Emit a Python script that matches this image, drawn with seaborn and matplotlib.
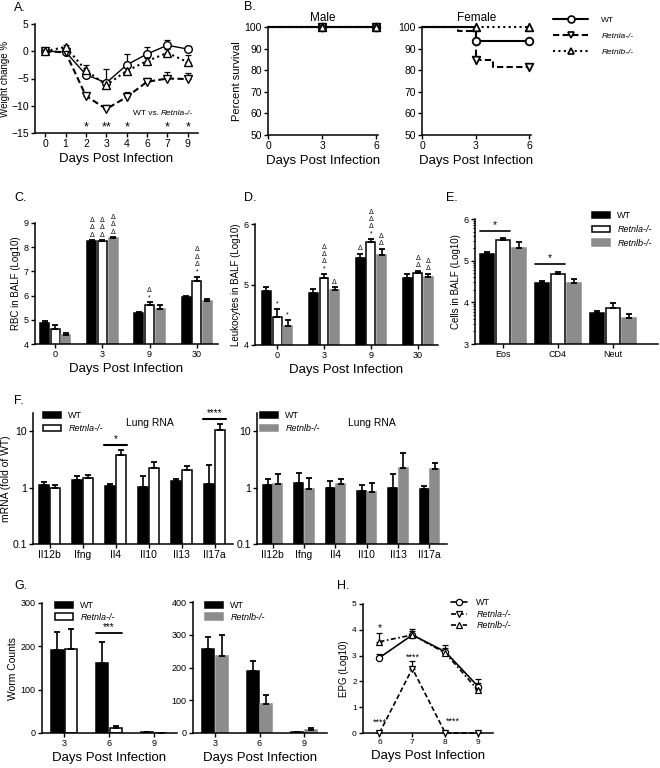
import numpy as np
import pandas as pd
import matplotlib
matplotlib.use("Agg")
import matplotlib.pyplot as plt
import seaborn as sns
from matplotlib.patches import Patch
from matplotlib.lines import Line2D
from matplotlib.ticker import FixedLocator, NullLocator, FixedFormatter

# ---------------- data ----------------
GENO = ["WT", "Retnla-/-", "Retnlb-/-"]
COLORS = {"WT": "black", "Retnla-/-": "white", "Retnlb-/-": "#8c8c8c"}

# A. weight change
days_a = ["0", "1", "2", "3", "4", "6", "7", "9"]
wt_a = [0, -0.1, -4.3, -5.8, -2.5, -0.5, 1.1, 0.4]
wt_a_err = [0.2, 0.3, 0.5, 2.6, 2.0, 1.2, 0.9, 0.5]
rla_a = [0, -0.2, -8.2, -10.6, -8.4, -5.6, -5.0, -5.1]
rla_a_err = [0.2, 0.3, 0.5, 0.8, 1.0, 0.7, 1.2, 1.2]
rlb_a = [0, 0.8, -3.5, -6.2, -3.6, -1.8, -0.3, -2.0]
rlb_a_err = [0.2, 0.3, 0.9, 0.7, 0.8, 0.6, 0.8, 1.3]
stars_a = ["", "", "*", "**", "*", "", "*", "*"]

# B. survival (Kaplan-Meier steps + censor marks)
male_t = [0, 6]
male_s = [100, 100]
male_cens_t = [3, 6]
male_cens_s = [100, 100]
fem_wt_t = [0, 3, 6]
fem_wt_s = [100, 93.3, 93.3]
fem_rla_t = [0, 2, 3, 4, 6]
fem_rla_s = [100, 98.3, 84.7, 81.3, 81.3]
fem_rlb_t = [0, 6]
fem_rlb_s = [100, 100]
fem_cens_t = [3, 6]
fem_wt_cens = [93.3, 93.3]
fem_rla_cens = [84.7, 81.3]
fem_rlb_cens = [100, 100]

# C. RBC in BALF
days_c = ["0", "3", "9", "30"]
wt_c = [4.88, 8.24, 5.27, 5.95]
wt_c_err = [0.07, 0.05, 0.05, 0.05]
rla_c = [4.63, 8.25, 5.63, 6.62]
rla_c_err = [0.15, 0.04, 0.09, 0.15]
rlb_c = [4.37, 8.36, 5.45, 5.79]
rlb_c_err = [0.09, 0.06, 0.15, 0.08]
ann_c = {"WT": ["", "ΔΔΔ", "", ""],
         "Retnla-/-": ["", "ΔΔΔ", "*Δ", "*ΔΔΔ"],
         "Retnlb-/-": ["", "ΔΔΔ", "", ""]}

# D. leukocytes in BALF
days_d = ["0", "3", "9", "30"]
wt_d = [4.90, 4.86, 5.44, 5.10]
wt_d_err = [0.06, 0.06, 0.07, 0.08]
rla_d = [4.47, 5.11, 5.70, 5.19]
rla_d_err = [0.13, 0.06, 0.05, 0.04]
rlb_d = [4.32, 4.91, 5.49, 5.12]
rlb_d_err = [0.10, 0.05, 0.10, 0.06]
ann_d = {"WT": ["", "", "Δ", ""],
         "Retnla-/-": ["*", "*ΔΔΔ", "*ΔΔΔ", "ΔΔ"],
         "Retnlb-/-": ["*", "Δ", "ΔΔ", "ΔΔ"]}

# E. cells in BALF
cells_e = ["Eos", "CD4", "Neut"]
wt_e = [5.15, 4.46, 3.75]
wt_e_err = [0.07, 0.06, 0.04]
rla_e = [5.50, 4.68, 3.86]
rla_e_err = [0.05, 0.05, 0.12]
rlb_e = [5.31, 4.46, 3.63]
rlb_e_err = [0.13, 0.10, 0.08]
sig_e = {"Eos": 5.71, "CD4": 4.92}

# F. lung RNA
genes_f = ["Il12b", "Ifng", "Il4", "Il10", "Il13", "Il17a"]
wt_f1 = [1.10, 1.35, 1.08, 1.03, 1.29, 1.18]
wt_f1_err = [0.16, 0.23, 0.07, 0.57, 0.15, 1.30]
rla_f = [0.99, 1.50, 3.72, 2.19, 2.08, 10.6]
rla_f_err = [0.11, 0.17, 0.84, 0.65, 0.30, 2.9]
sig_f = {"Il4": (5.8, "*"), "Il17a": (16.7, "****")}
wt_f2 = [1.10, 1.20, 1.00, 0.86, 1.00, 0.96]
wt_f2_err = [0.30, 0.60, 0.29, 0.24, 0.77, 0.10]
rlb_f = [1.18, 0.96, 1.18, 0.82, 2.25, 2.16]
rlb_f_err = [0.54, 0.52, 0.24, 0.38, 1.85, 0.60]

# G. worm counts
days_g = ["3", "6", "9"]
wt_g1 = [191, 161, 2]
wt_g1_err = [41, 48, 1]
rla_g = [193, 11, 0]
rla_g_err = [48, 6, 0]
wt_g2 = [256, 189, 3]
wt_g2_err = [36, 32, 1]
rlb_g = [235, 88, 9]
rlb_g_err = [64, 28, 6]

# H. eggs per gram
days_h = [6, 7, 8, 9]
wt_h = [2.92, 3.80, 3.15, 1.80]
wt_h_err = [0.14, 0.23, 0.25, 0.29]
rla_h = [0, 2.50, 0, 0]
rla_h_err = [0, 0.30, 0, 0]
rlb_h = [3.54, 3.80, 3.10, 1.65]
rlb_h_err = [0.32, 0.15, 0.20, 0.30]

# ---------------- style ----------------
sns.set_style("ticks")
plt.rcParams["font.family"] = ["Liberation Sans", "DejaVu Sans"]
plt.rcParams["axes.linewidth"] = 1.1
plt.rcParams["axes.edgecolor"] = "black"
plt.rcParams["xtick.color"] = "black"
plt.rcParams["ytick.color"] = "black"
plt.rcParams["text.color"] = "black"
plt.rcParams["axes.labelcolor"] = "black"

W, H = 660, 768
fig = plt.figure(figsize=(6.6, 7.68), dpi=100)

LS = {"WT": "-", "Retnla-/-": (0, (3, 1.6)), "Retnlb-/-": (0, (1, 1.6))}
MK = {"WT": "o", "Retnla-/-": "v", "Retnlb-/-": "^"}


def px_axes(l, t, r, b):
    ax = fig.add_axes([l / W, 1 - b / H, (r - l) / W, (b - t) / H])
    sns.despine(ax=ax)
    return ax


def style_ticks(ax, size):
    ax.tick_params(length=3, width=1.0, pad=1.5, labelsize=size)


def italic_legend(leg):
    for t in leg.get_texts():
        if t.get_text() != "WT":
            t.set_fontstyle("italic")


def bar_legend(ax, groups, x_px, y_px, size=6.5, spacing=0.35):
    handles = [Patch(facecolor=COLORS[g],
                     edgecolor=COLORS[g] if g == "Retnlb-/-" else "black",
                     linewidth=1.1) for g in groups]
    leg = ax.legend(handles, groups, loc="upper left",
                    bbox_to_anchor=(x_px / W, 1 - y_px / H),
                    bbox_transform=fig.transFigure, frameon=False,
                    fontsize=size, handlelength=2.0, handleheight=0.75,
                    handletextpad=0.8, labelspacing=spacing,
                    borderaxespad=0, borderpad=0)
    italic_legend(leg)


def draw_bars(ax, cats, groups, values, errors, width, gap):
    rows = []
    for g, vals in zip(groups, values):
        for c, v in zip(cats, vals):
            rows.append((c, g, v))
    df = pd.DataFrame(rows, columns=["cat", "grp", "val"])
    sns.barplot(data=df, x="cat", y="val", hue="grp", order=cats,
                hue_order=groups, palette=COLORS, width=width, gap=gap,
                edgecolor="black", linewidth=1.1, errorbar=None,
                legend=False, ax=ax, zorder=2)
    pos = {}
    n = len(cats)
    for i, g in enumerate(groups):
        xs = []
        for j, c in enumerate(cats):
            p = ax.patches[i * n + j]
            if g == "Retnlb-/-":
                p.set_edgecolor(COLORS[g])
            x = p.get_x() + p.get_width() / 2
            xs.append(x)
            pos[(g, c)] = (x, values[i][j] + errors[i][j], p.get_width())
        ax.errorbar(xs, values[i], yerr=[np.zeros(n), errors[i]], fmt="none",
                    ecolor="black", elinewidth=1.2, capsize=2, capthick=1.3,
                    zorder=3)
    return pos


def stack(ax, x, y, syms, size=5.0, step=5.3):
    for k, s in enumerate(syms):
        ax.annotate(s, (x, y), xytext=(0, 1.0 + step * k),
                    textcoords="offset points", ha="center", va="bottom",
                    fontsize=size, annotation_clip=False)


def panel_label(txt, x, y):
    fig.text(x / W, 1 - y / H, txt, ha="left", va="top", fontsize=9)


XLAB = "Days Post Infection"

# ---------------- A ----------------
ax = px_axes(35, 24, 198, 133)
xa = np.arange(len(days_a))
for g, vals, errs in (("WT", wt_a, wt_a_err), ("Retnla-/-", rla_a, rla_a_err),
                      ("Retnlb-/-", rlb_a, rlb_a_err)):
    sns.lineplot(x=xa, y=vals, ax=ax, color="black", linestyle=LS[g],
                 linewidth=1.0 if g == "WT" else 1.5, marker=MK[g],
                 markersize=5.5, markerfacecolor="white",
                 markeredgecolor="black", markeredgewidth=1.0, zorder=3)
    ax.errorbar(xa, vals, yerr=[np.zeros(len(xa)), errs], fmt="none",
                ecolor="black", elinewidth=0.9, capsize=2.5, capthick=0.9,
                zorder=2)
for x, s in zip(xa, stars_a):
    if s:
        ax.text(x, -14.0, s, ha="center", va="center", fontsize=9)
t1 = ax.text(4.3, -11.5, "WT vs. ", ha="left", va="center", fontsize=6)
ax.annotate("Retnla-/-", xy=(1, 0), xycoords=t1, va="bottom", ha="left",
            fontsize=6, style="italic")
ax.set_xlim(-0.5, 7.5)
ax.set_ylim(-15, 5)
ax.set_xticks(xa)
ax.set_xticklabels(days_a)
ax.set_yticks([-15, -10, -5, 0, 5])
style_ticks(ax, 7.5)
ax.set_xlabel(XLAB, fontsize=9.5, labelpad=3)
ax.set_ylabel("Weight change %", fontsize=7)
ax.yaxis.set_label_coords(-0.155, 0.5)
panel_label("A.", 14, 2)

# ---------------- B ----------------
ax_m = px_axes(268, 27, 378, 135)
ax_f = px_axes(422, 27, 531, 135)
male_sets = [(g, male_t, male_s, male_cens_t, male_cens_s) for g in GENO]
fem_sets = [("WT", fem_wt_t, fem_wt_s, fem_cens_t, fem_wt_cens),
            ("Retnla-/-", fem_rla_t, fem_rla_s, fem_cens_t, fem_rla_cens),
            ("Retnlb-/-", fem_rlb_t, fem_rlb_s, fem_cens_t, fem_rlb_cens)]
for ax, title, sets in ((ax_m, "Male", male_sets), (ax_f, "Female", fem_sets)):
    for g, t, s, ct, cs in sets:
        sns.lineplot(x=t, y=s, ax=ax, color="black", linestyle=LS[g],
                     linewidth=1.5, drawstyle="steps-post", zorder=3,
                     clip_on=False)
        sns.scatterplot(x=ct, y=cs, ax=ax, marker=MK[g], color="white",
                        edgecolor="black", linewidth=1.3, s=30, zorder=4,
                        clip_on=False)
    ax.set_xlim(0, 6.1)
    ax.set_ylim(50, 100)
    ax.set_xticks([0, 3, 6])
    ax.set_yticks([50, 60, 70, 80, 90, 100])
    style_ticks(ax, 7.5)
    ax.set_title(title, fontsize=8.5, pad=4)
    ax.set_xlabel(XLAB, fontsize=9.5, labelpad=3)
ax_m.set_ylabel("Percent survival", fontsize=8, labelpad=2)
handles_b = [Line2D([0], [0], color="black", linestyle=LS[g],
                    linewidth=1.5, marker=MK[g], markersize=5,
                    markerfacecolor="white", markeredgecolor="black",
                    markeredgewidth=1.2) for g in GENO]
leg = ax_f.legend(handles_b, GENO, loc="upper left",
                  bbox_to_anchor=(553 / W, 1 - 16 / H),
                  bbox_transform=fig.transFigure, frameon=False, fontsize=6,
                  handlelength=4.2, handletextpad=1.6, labelspacing=1.0,
                  borderaxespad=0, borderpad=0)
italic_legend(leg)
panel_label("B.", 244, 1)

# ---------------- C ----------------
ax = px_axes(35, 223, 218, 344)
pos = draw_bars(ax, days_c, GENO, [wt_c, rla_c, rlb_c],
                [wt_c_err, rla_c_err, rlb_c_err], width=0.68, gap=0.16)
for g in GENO:
    for c, s in zip(days_c, ann_c[g]):
        if s:
            x, y, _ = pos[(g, c)]
            stack(ax, x, y, s)
ax.set_xlim(-0.43, 3.45)
ax.set_ylim(4, 9)
ax.set_yticks([4, 5, 6, 7, 8, 9])
ax.set_xlabel(XLAB, fontsize=9.5, labelpad=3)
ax.set_ylabel("RBC in BALF (Log10)", fontsize=7, labelpad=2)
style_ticks(ax, 6.5)
panel_label("C.", 14, 192)

# ---------------- D ----------------
ax = px_axes(255, 224, 438, 345)
pos = draw_bars(ax, days_d, GENO, [wt_d, rla_d, rlb_d],
                [wt_d_err, rla_d_err, rlb_d_err], width=0.68, gap=0.16)
for g in GENO:
    for c, s in zip(days_d, ann_d[g]):
        if s:
            x, y, _ = pos[(g, c)]
            stack(ax, x, y, s)
ax.set_xlim(-0.47, 3.43)
ax.set_ylim(4, 6)
ax.set_yticks([4, 5, 6])
ax.set_xlabel(XLAB, fontsize=9.5, labelpad=3)
ax.set_ylabel("Leukocytes in BALF (Log10)", fontsize=7, labelpad=2)
style_ticks(ax, 6.5)
panel_label("D.", 244, 192)

# ---------------- E ----------------
ax = px_axes(475, 219, 658, 344)
pos = draw_bars(ax, cells_e, GENO, [wt_e, rla_e, rlb_e],
                [wt_e_err, rla_e_err, rlb_e_err], width=0.86, gap=0.12)
for c, yl in sig_e.items():
    x1, _, w = pos[("WT", c)]
    x2, _, _ = pos[("Retnla-/-", c)]
    ax.plot([x1 - w / 2, x2 + w / 2], [yl, yl], color="black", lw=1.2)
    ax.text((x1 + x2) / 2, yl + 0.03, "*", ha="center", va="bottom",
            fontsize=7.5)
ax.set_xlim(-0.51, 2.82)
ax.set_ylim(3, 6)
ax.set_yticks([3, 4, 5, 6])
minor = [n + np.log10(k) for n in range(3, 6) for k in range(2, 10)]
ax.yaxis.set_minor_locator(FixedLocator(minor))
ax.tick_params(axis="y", which="minor", length=1.5, width=0.8)
ax.set_xlabel("")
ax.set_ylabel("Cells in BALF (Log10)", fontsize=7, labelpad=2)
style_ticks(ax, 6.5)
bar_legend(ax, GENO, 592, 211, size=6.5, spacing=0.55)
panel_label("E.", 446, 192)

# ---------------- F ----------------
for l, r, groups, vals, errs, leg_x, lung_x, show_sig in (
        (33, 233, ["WT", "Retnla-/-"], [wt_f1, rla_f], [wt_f1_err, rla_f_err],
         43, 150, True),
        (257, 447, ["WT", "Retnlb-/-"], [wt_f2, rlb_f], [wt_f2_err, rlb_f_err],
         260, 372, False)):
    ax = px_axes(l, 413, r, 544)
    pos = draw_bars(ax, genes_f, groups, vals, errs, width=0.66, gap=0.14)
    ax.set_yscale("log")
    ax.set_ylim(0.1, 21)
    ax.set_xlim(-0.5, 5.56)
    ax.yaxis.set_major_locator(FixedLocator([0.1, 1, 10]))
    ax.yaxis.set_major_formatter(FixedFormatter(["0.1", "1", "10"]))
    ax.yaxis.set_minor_locator(NullLocator())
    style_ticks(ax, 7.5)
    ax.set_xlabel("")
    ax.set_ylabel("mRNA (fold of WT)" if show_sig else "", fontsize=7.5,
                  labelpad=1)
    ax.text(lung_x / W, 1 - 423 / H, "Lung RNA", transform=fig.transFigure,
            ha="center", va="center", fontsize=7.5)
    bar_legend(ax, groups, leg_x, 411, size=6.5, spacing=0.45)
    if show_sig:
        for gname, (yl, s) in sig_f.items():
            x1, _, w = pos[(groups[0], gname)]
            x2, _, _ = pos[(groups[1], gname)]
            ax.plot([x1 - w / 2 - 0.05, x2 + w / 2 + 0.05], [yl, yl],
                    color="black", lw=1.5)
            ax.annotate(s, ((x1 + x2) / 2, yl), xytext=(0, 0.5),
                        textcoords="offset points", ha="center",
                        va="bottom", fontsize=7, annotation_clip=False)
panel_label("F.", 14, 395)

# ---------------- G ----------------
for l, top, r, groups, vals, errs, ymax, step, leg_x in (
        (42, 603, 177, ["WT", "Retnla-/-"], [wt_g1, rla_g],
         [wt_g1_err, rla_g_err], 300, 100, 55),
        (193, 602, 327, ["WT", "Retnlb-/-"], [wt_g2, rlb_g],
         [wt_g2_err, rlb_g_err], 400, 100, 205)):
    ax = px_axes(l, top, r, 733)
    pos = draw_bars(ax, days_g, groups, vals, errs, width=0.62, gap=0.12)
    ax.set_ylim(0, ymax)
    ax.set_yticks(np.arange(0, ymax + 1, step))
    ax.set_xlim(-0.5, 2.52)
    style_ticks(ax, 6.5)
    ax.set_xlabel(XLAB, fontsize=9.5, labelpad=3)
    ax.set_ylabel("Worm Counts" if ymax == 300 else "", fontsize=7.5,
                  labelpad=2)
    bar_legend(ax, groups, leg_x, 601, size=6.5, spacing=0.3)
    if ymax == 300:
        x1, _, w = pos[("WT", "6")]
        x2, _, _ = pos[("Retnla-/-", "6")]
        ax.plot([x1 - w / 2, x2 + w / 2], [231, 231], color="black", lw=1.3)
        ax.annotate("***", ((x1 + x2) / 2, 231), xytext=(0, 0.5),
                    textcoords="offset points", ha="center", va="bottom",
                    fontsize=7)
panel_label("G.", 14, 580)

# ---------------- H ----------------
ax = px_axes(363, 604, 493, 733)
LS_H = {"WT": "-", "Retnla-/-": (0, (3, 1.6)), "Retnlb-/-": (0, (3, 1.5, 1, 1.5))}
for g, vals, errs in (("WT", wt_h, wt_h_err), ("Retnla-/-", rla_h, rla_h_err),
                      ("Retnlb-/-", rlb_h, rlb_h_err)):
    sns.lineplot(x=days_h, y=vals, ax=ax, color="black", linestyle=LS_H[g],
                 linewidth=1.2, marker=MK[g], markersize=4.5,
                 markerfacecolor="white", markeredgecolor="black",
                 markeredgewidth=0.9, zorder=3, clip_on=False)
    ax.errorbar(days_h, vals, yerr=[np.zeros(4), errs], fmt="none",
                ecolor="black", elinewidth=0.9, capsize=2, capthick=0.9,
                zorder=2)
ax.text(6, 4.05, "*", ha="center", va="center", fontsize=7.5)
ax.text(7, 2.95, "****", ha="center", va="center", fontsize=6.5)
ax.text(6, 0.42, "****", ha="center", va="center", fontsize=6.5)
ax.text(8.02, 0.45, "****", ha="left", va="center", fontsize=6.5)
ax.set_xlim(5.5, 9.45)
ax.set_ylim(0, 5)
ax.set_xticks(days_h)
ax.set_yticks([0, 1, 2, 3, 4, 5])
style_ticks(ax, 6)
ax.set_xlabel(XLAB, fontsize=9.5, labelpad=3)
ax.set_ylabel("EPG (Log10)", fontsize=7, labelpad=2)
handles_h = [Line2D([0], [0], color="black", linestyle=LS_H[g], linewidth=1.2,
                    marker=MK[g], markersize=4.5, markerfacecolor="white",
                    markeredgecolor="black", markeredgewidth=0.9)
             for g in GENO]
leg = ax.legend(handles_h, GENO, loc="upper left",
                bbox_to_anchor=(451 / W, 1 - 598 / H),
                bbox_transform=fig.transFigure, frameon=False, fontsize=6.5,
                handlelength=1.8, handletextpad=1.0, labelspacing=0.3,
                borderaxespad=0, borderpad=0)
italic_legend(leg)
panel_label("H.", 337, 580)

fig.savefig("out.png", dpi=100)
